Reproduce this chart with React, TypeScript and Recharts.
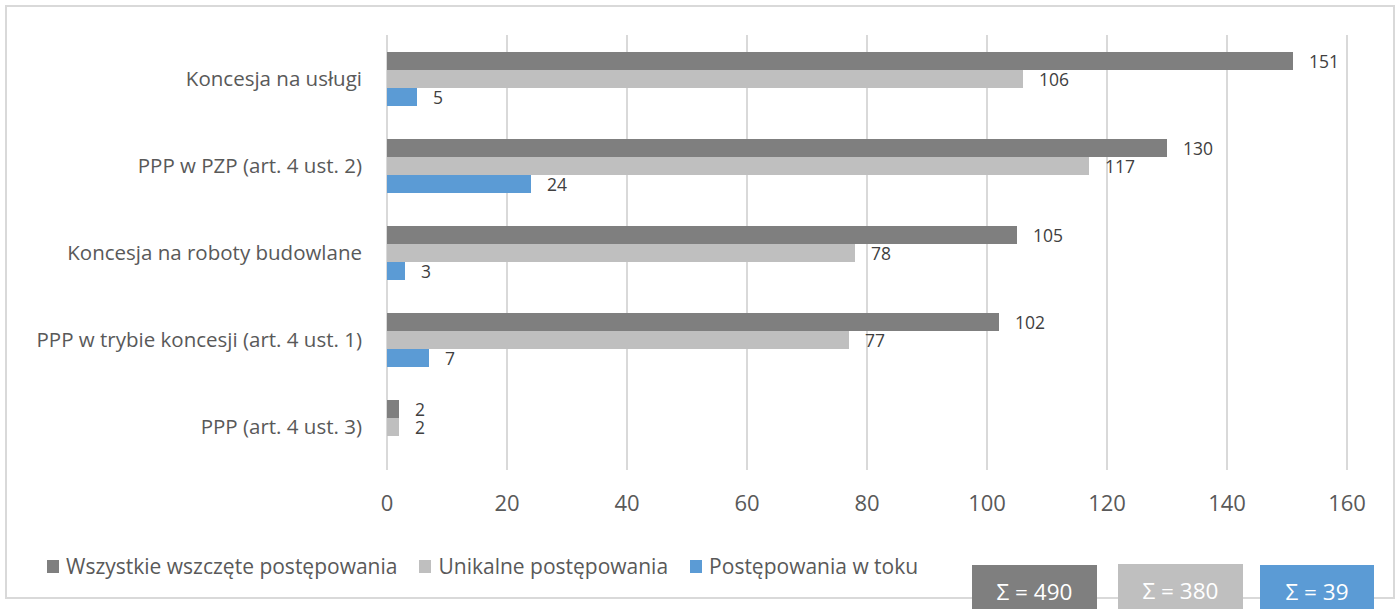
import { Bar, BarChart, CartesianGrid, LabelList, Legend, XAxis, YAxis } from 'recharts';

const categories = [
  'Koncesja na usługi',
  'PPP w PZP (art. 4 ust. 2)',
  'Koncesja na roboty budowlane',
  'PPP w trybie koncesji (art. 4 ust. 1)',
  'PPP (art. 4 ust. 3)',
];
const allStarted = [151, 130, 105, 102, 2];
const unique = [106, 117, 78, 77, 2];
const ongoing: Array<number | null> = [5, 24, 3, 7, null];
const xTicks = [0, 20, 40, 60, 80, 100, 120, 140, 160];

const seriesNames = ['Wszystkie wszczęte postępowania', 'Unikalne postępowania', 'Postępowania w toku'];
const colors = ['#7f7f7f', '#bfbfbf', '#5b9bd5'];

const data = categories.map((name, i) => ({
  name,
  all: allStarted[i],
  unique: unique[i],
  ongoing: ongoing[i],
}));

const sum = (arr: Array<number | null>) => arr.reduce<number>((a, b) => a + (b ?? 0), 0);
const sums = [sum(allStarted), sum(unique), sum(ongoing)];

const font = '"Open Sans", sans-serif';

function LegendContent() {
  return (
    <div style={{ display: 'flex', fontFamily: font, fontSize: 21, color: '#595959', whiteSpace: 'nowrap' }}>
      {seriesNames.map((s, i) => (
        <div key={s} style={{ display: 'flex', alignItems: 'center', marginRight: 22 }}>
          <span style={{ display: 'inline-block', width: 12, height: 13, background: colors[i], marginRight: 7 }} />
          {s}
        </div>
      ))}
    </div>
  );
}

const boxes = [
  { left: 972, width: 125, top: 565 },
  { left: 1118, width: 125, top: 564 },
  { left: 1260, width: 114, top: 565 },
];

export default function App() {
  return (
    <div style={{ position: 'fixed', left: 0, top: 0, width: 1400, height: 609, background: '#fff', overflow: 'hidden' }}>
      <div
        style={{
          position: 'absolute',
          left: 5,
          top: 5,
          width: 1386,
          height: 590,
          border: '2px solid #d9d9d9',
        }}
      />
      <div style={{ position: 'absolute', left: 0, top: 0 }}>
        <BarChart
          width={1400}
          height={609}
          data={data}
          layout="vertical"
          margin={{ top: 35, right: 53, bottom: 99, left: 0 }}
          barGap={0}
          barSize={18}
        >
          <CartesianGrid stroke="#d9d9d9" strokeWidth={2} horizontal={false} />
          <XAxis
            type="number"
            domain={[0, 160]}
            ticks={xTicks}
            height={40}
            axisLine={false}
            tickLine={false}
            tickSize={0}
            tickMargin={25}
            tick={{ fill: '#595959', fontSize: 22, fontFamily: font }}
          />
          <YAxis
            type="category"
            dataKey="name"
            width={387}
            axisLine={false}
            tickLine={false}
            tickSize={0}
            tickMargin={25}
            tick={{ fill: '#595959', fontSize: 20.5, fontFamily: font }}
          />
          <Legend
            layout="horizontal"
            verticalAlign="middle"
            align="center"
            content={<LegendContent />}
            wrapperStyle={{ left: 47, top: 552, width: 'auto' }}
          />
          <Bar dataKey="all" name={seriesNames[0]} fill={colors[0]} isAnimationActive={false}>
            <LabelList dataKey="all" position="right" offset={16} dy={1} fill="#404040" fontSize={17.5} fontFamily={font} />
          </Bar>
          <Bar dataKey="unique" name={seriesNames[1]} fill={colors[1]} isAnimationActive={false}>
            <LabelList dataKey="unique" position="right" offset={16} dy={1} fill="#404040" fontSize={17.5} fontFamily={font} />
          </Bar>
          <Bar dataKey="ongoing" name={seriesNames[2]} fill={colors[2]} isAnimationActive={false}>
            <LabelList dataKey="ongoing" position="right" offset={16} dy={1} fill="#404040" fontSize={17.5} fontFamily={font} />
          </Bar>
        </BarChart>
      </div>
      {boxes.map((b, i) => (
        <div
          key={i}
          style={{
            position: 'absolute',
            left: b.left,
            top: b.top,
            width: b.width,
            height: 609 - b.top,
            background: colors[i],
            color: '#fff',
            fontFamily: font,
            fontSize: 22.5,
            display: 'flex',
            alignItems: 'center',
            justifyContent: 'center',
            paddingTop: 8,
            boxSizing: 'border-box',
          }}
        >
          Σ = {sums[i]}
        </div>
      ))}
    </div>
  );
}
